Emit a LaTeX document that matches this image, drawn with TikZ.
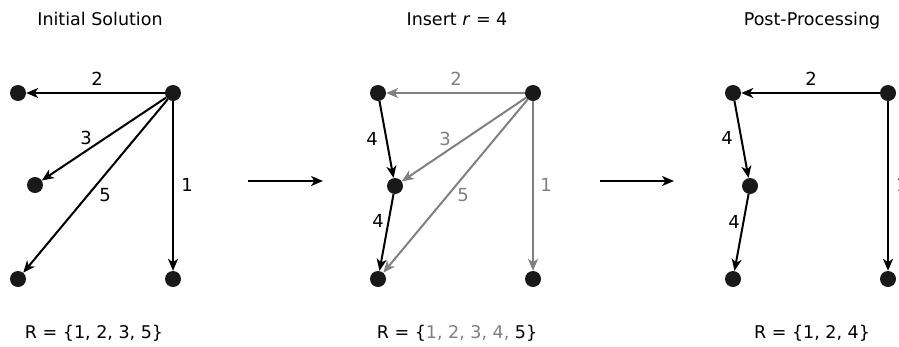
\documentclass[tikz,border=0pt]{standalone}
\usepackage{fontspec}
\setmainfont{DejaVu Sans}
\usetikzlibrary{arrows.meta}
\definecolor{edgegray}{RGB}{128,128,128}
\begin{document}
\begin{tikzpicture}[x=1pt,y=-1pt,
  dot/.style={circle,fill=black!90,inner sep=0pt,minimum size=16pt},
  edge/.style={line width=2pt,-{Stealth[length=12pt,width=10pt,inset=3.5pt]}},
  grayedge/.style={edge,draw=edgegray},
  lbl/.style={font=\fontsize{18}{21}\selectfont,inner sep=0pt},
  graylbl/.style={lbl,text=edgegray},
  ttl/.style={font=\fontsize{17.5}{20}\selectfont,inner sep=0pt,anchor=base}]
\useasboundingbox (0,0) rectangle (899,346);
% ---------- panel 1
\node[ttl] (t1) at (100,25) {Initial Solution};
\node[dot] (a1) at (18,93) {};
\node[dot] (b1) at (173,93) {};
\node[dot] (c1) at (35,185) {};
\node[dot] (d1) at (18,279) {};
\node[dot] (e1) at (173,279) {};
\draw[edge] (b1) -- (a1);
\draw[edge] (b1) -- (c1);
\draw[edge] (b1) -- (d1);
\draw[edge] (b1) -- (e1);
\node[lbl] (l12) at (97,79) {2};
\node[lbl] (l13) at (86,138) {3};
\node[lbl] (l15) at (105,195) {5};
\node[lbl] (l11) at (187,185) {1};
\node[ttl] (r1) at (94,338) {R = \{1, 2, 3, 5\}};
% ---------- panel 2
\node[ttl] (t2) at (457,25) {Insert \textit{r} = 4};
\node[dot] (a2) at (378,93) {};
\node[dot] (b2) at (533,93) {};
\node[dot] (c2) at (395,186) {};
\node[dot] (d2) at (378,279) {};
\node[dot] (e2) at (533,279) {};
\draw[grayedge] (b2) -- (a2);
\draw[grayedge] (b2) -- (c2);
\draw[grayedge] (b2) -- (d2);
\draw[grayedge] (b2) -- (e2);
\draw[edge] (a2) -- (c2);
\draw[edge] (c2) -- (d2);
\node[graylbl] (l22) at (456,79) {2};
\node[graylbl] (l23) at (445,139) {3};
\node[graylbl] (l25) at (463,195) {5};
\node[graylbl] (l21) at (546,185) {1};
\node[lbl] (l24a) at (372,139) {4};
\node[lbl] (l24b) at (378,221) {4};
\node[ttl] (r2) at (457,338) {R = \{\textcolor{edgegray}{1, 2, 3, 4,} 5\}};
% ---------- panel 3
\node[ttl] (t3) at (812,25) {Post-Processing};
\node[dot] (a3) at (733,93) {};
\node[dot] (b3) at (888,93) {};
\node[dot] (c3) at (750,186) {};
\node[dot] (d3) at (733,279) {};
\node[dot] (e3) at (888,279) {};
\draw[edge] (b3) -- (a3);
\draw[edge] (a3) -- (c3);
\draw[edge] (c3) -- (d3);
\draw[edge] (b3) -- (e3);
\node[lbl] (l32) at (811,79) {2};
\node[lbl] (l34a) at (727,138) {4};
\node[lbl] (l34b) at (734,222) {4};
\node[lbl] (l31) at (902,185) {1};
\node[ttl] (r3) at (812,338) {R = \{1, 2, 4\}};
% ---------- transitions
\coordinate (s1) at (248,181);
\coordinate (s2) at (323,181);
\coordinate (s3) at (600,181);
\coordinate (s4) at (674,181);
\draw[edge] (s1) -- (s2);
\draw[edge] (s3) -- (s4);
\end{tikzpicture}
\end{document}
